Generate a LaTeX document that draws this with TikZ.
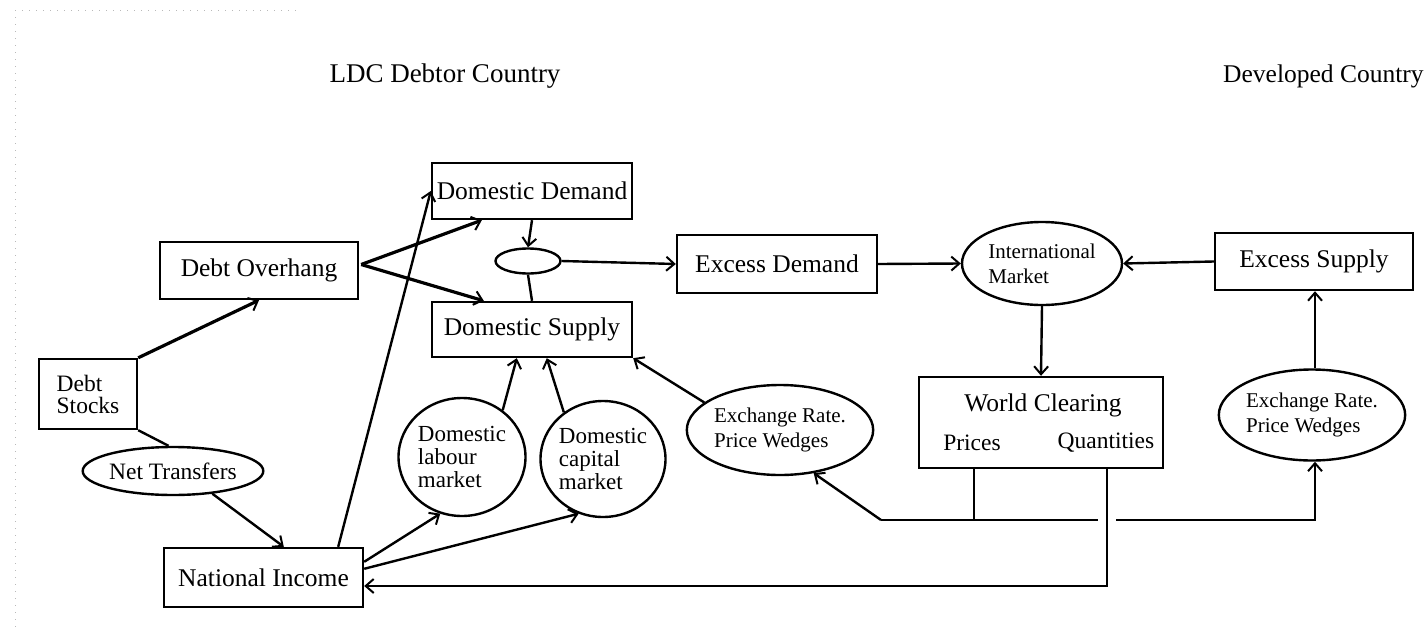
\documentclass[tikz,border=0pt]{standalone}
\usepackage{fontspec}
\setmainfont{Liberation Serif}
\usetikzlibrary{arrows.meta,shapes.geometric,calc}
\newcommand\fsBig{\fontsize{25.5}{28}\selectfont}
\newcommand\fsHead{\fontsize{27}{28}\selectfont}
\newcommand\fsMid{\fontsize{23.5}{25}\selectfont}
\newcommand\fsSm{\fontsize{21}{25}\selectfont}
\newcommand\fsCirc{\fontsize{23}{23}\selectfont}
\begin{document}
\begin{tikzpicture}[x=1pt,y=-1pt,
  box/.style={draw, line width=2.4pt, rectangle, inner sep=0pt, font=\fsBig},
  oval/.style={draw, ellipse, line width=2.4pt, inner sep=0pt},
  conn/.style={line width=2.4pt},
  arr/.style={conn, -{Straight Barb[length=8pt,width=14pt,line width=2pt]}},
  heavy/.style={arr, line width=3.2pt},
  plain/.style={inner sep=0pt}]
\fill[white] (0,0) rectangle (1428,640);
\useasboundingbox (0,0) rectangle (1428,640);
% faint scan border
\draw[gray!55, line width=1pt, dash pattern=on 1pt off 6pt] (15,10) -- (15,630);
\draw[gray!55, line width=1pt, dash pattern=on 1pt off 6pt] (15,10) -- (300,10);

% headings
\node[plain, font=\fsHead] (ldc) at (445,76) {LDC Debtor Country};
\node[plain, font=\fsBig, anchor=west] (dev) at (1223,76) {Developed Country};

% boxes
\node[box, minimum width=200, minimum height=56] (dd) at (532,191) {Domestic Demand};
\node[box, minimum width=200, minimum height=55] (ds) at (532,329.5) {Domestic Supply};
\node[box, minimum width=200, minimum height=58] (ed) at (777,264) {Excess Demand};
\node[box, minimum width=198, minimum height=57] (es) at (1314,261.5) {Excess Supply};
\node[box, minimum width=198, minimum height=57] (do) at (259,270.5) {Debt Overhang};
\node[box, minimum width=98, minimum height=70, align=left, font=\fsMid] (dstk) at (88,394) {Debt\\[-3pt]Stocks};
\node[box, minimum width=199, minimum height=59] (ni) at (263.5,577.5) {National Income};
\node[box, minimum width=244, minimum height=91] (wc) at (1041,422.5) {};
\node[plain, font=\fsBig] (wct) at (1043,405) {World Clearing};
\node[plain, font=\fsMid] (wcp) at (972,443) {Prices};
\node[plain, font=\fsMid] (wcq) at (1106,443) {Quantities};

% ellipses and circles
\node[oval, minimum width=65, minimum height=25] (sm) at (528,261) {};
\node[oval, minimum width=160, minimum height=83, align=left, font=\fsSm] (im) at (1042,263.5) {International\\Market};
\node[oval, minimum width=160, minimum height=90, align=left, font=\fsSm] (xl) at (780,430) {Exchange Rate.\\Price Wedges};
\node[oval, minimum width=157, minimum height=91, align=left, font=\fsSm] (xr) at (1312,415) {Exchange Rate.\\Price Wedges};
\node[oval, minimum width=127, minimum height=118, align=left, font=\fsCirc] (lab) at (462,457) {Domestic\\labour\\market};
\node[oval, minimum width=125, minimum height=116, align=left, font=\fsCirc] (cap) at (603,459) {Domestic\\capital\\market};
\node[oval, minimum width=170, minimum height=48, font=\fsMid] (nt) at (173,471) {Net Transfers};

% helper coordinates
\coordinate (j1) at (881,520);
\coordinate (jp) at (974,520);
\coordinate (g1) at (1098,520);
\coordinate (g2) at (1116,520);
\coordinate (j2) at (1315,520);
\coordinate (q2) at (1107,586);

% connectors
\draw[heavy] (dstk.north east) -- (do.south);
\draw[heavy] ($(do.east)+(2,-6)$) -- ($(dd.south west)+(51,0)$);
\draw[heavy] ($(do.east)+(2,-6)$) -- ($(ds.north west)+(53,0)$);
\draw[arr] ($(ni.north east)+(-26,0)$) -- (dd.west);
\draw[conn] (dstk.south east) -- (nt.100);
\draw[arr] (nt.-30) -- ($(ni.north west)+(121,0)$);
\draw[arr] ($(ni.north east)+(0,15)$) -- (lab.249);
\draw[arr] ($(ni.north east)+(0,22)$) -- (cap.246);
\draw[arr] (lab.49) -- ($(ds.south west)+(86,0)$);
\draw[arr] (cap.130) -- ($(ds.south west)+(116,0)$);
\draw[arr] (xl.160) -- (ds.south east);
\draw[arr] (dd.south) -- (sm.north);
\draw[conn] (sm.south) -- (ds.north);
\draw[arr] (sm.east) -- (ed.west);
\draw[arr] (ed.east) -- (im.west);
\draw[arr] (es.west) -- (im.east);
\draw[arr] (im.south) -- (wc.north);
\draw[arr] (xr.north -| j2) -- (j2 |- es.south);
\draw[conn] (jp |- wc.south) -- (jp);
\draw[arr] (j1) -- (xl.-52);
\draw[conn] (j1) -- (g1);
\draw[arr] (g2) -- (j2) -- (j2 |- xr.south);
\draw[arr] (q2 |- wc.south) -- (q2) -- (q2 -| ni.east);
\end{tikzpicture}
\end{document}
